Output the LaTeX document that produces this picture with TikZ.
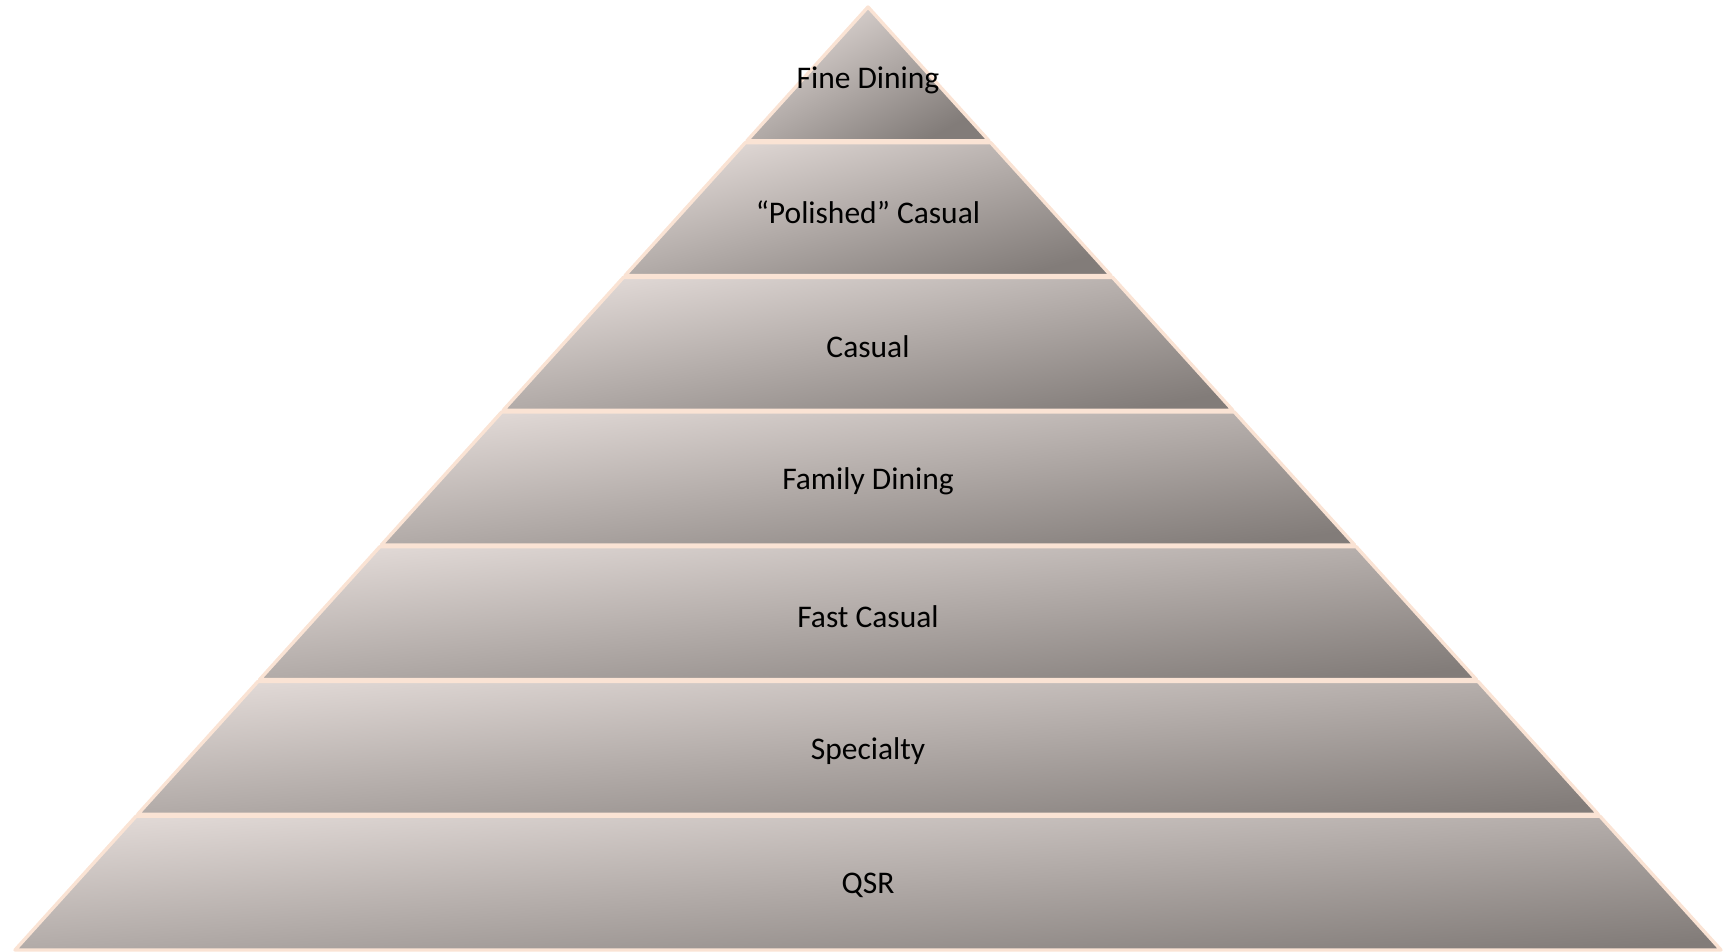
\documentclass[tikz,border=0pt]{standalone}
\usepackage{fontspec}
\setmainfont{Carlito}
\definecolor{edge}{RGB}{250,227,212}
\definecolor{lite}{RGB}{225,217,214}
\definecolor{midc}{RGB}{198,190,187}
\definecolor{dark}{RGB}{130,124,121}
\begin{document}
\begin{tikzpicture}[x=1pt,y=-1pt,
  layerbox/.style={draw=edge, line width=3.4pt, line join=round,
    top color=lite, middle color=midc, bottom color=dark},
  lbl/.style={font=\fontsize{31.5}{37}\selectfont, text=black, inner sep=0pt}]
\useasboundingbox (0,0) rectangle (1727,952);
\foreach \i/\txt/\dy in {0/Fine Dining/-6, 1/{“Polished” Casual}/-3, 2/Casual/-3, 3/Family Dining/-3, 4/Fast Casual/-3, 5/Specialty/-3, 6/QSR/-3}{
  \pgfmathsetmacro{\ytop}{7+\i*134.714+(\i>0)*0.9}
  \pgfmathsetmacro{\ybot}{7+(\i+1)*134.714-(\i<6)*0.9}
  \pgfmathsetmacro{\hwt}{(\ytop-7)*0.90456}
  \pgfmathsetmacro{\hwb}{(\ybot-7)*0.90456}
  \pgfmathsetmacro{\ymid}{7+(\i+0.5)*134.714}
  \pgfmathsetmacro{\ang}{atan((\ybot-\ytop)/(2*\hwb))}
  \path[layerbox, shading angle=\ang] ({868-\hwt},\ytop) -- ({868+\hwt},\ytop) -- ({868+\hwb},\ybot) -- ({868-\hwb},\ybot) -- cycle;
  \node[lbl, yshift=\dy pt] (L\i) at (868,\ymid) {\txt};
}
\end{tikzpicture}
\end{document}
